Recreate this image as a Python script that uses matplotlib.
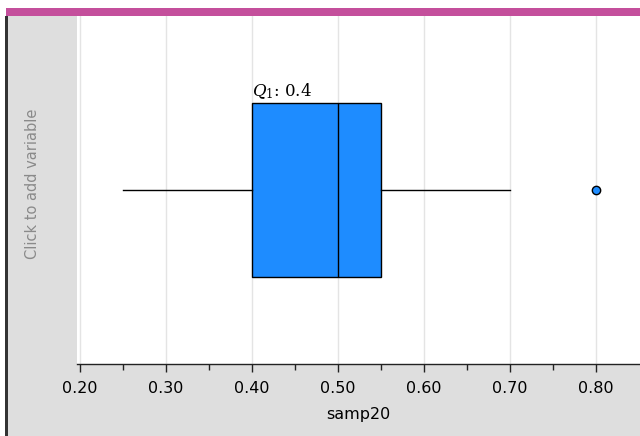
import matplotlib
matplotlib.use("Agg")
import matplotlib.pyplot as plt
from matplotlib.patches import Rectangle
import numpy as np

# five-number summary
var_name = "samp20"
q1 = 0.40
median = 0.50
q3 = 0.55
whisker_low = 0.25
whisker_high = 0.70
outliers = [0.80]

tick_values = [0.20, 0.30, 0.40, 0.50, 0.60, 0.70, 0.80]
tick_labels = ["0.20", "0.30", "0.40", "0.50", "0.60", "0.70", "0.80"]

W, H = 640, 436
fig = plt.figure(figsize=(W / 100, H / 100), dpi=100)
fig.patch.set_facecolor("white")

# background chrome: grey side/bottom panel, dark left edge, pink top bar
grey = "#dedede"
fig.patches.append(Rectangle((8 / W, 0), 1 - 8 / W, 1 - 16 / H, transform=fig.transFigure,
                             facecolor=grey, edgecolor="none", zorder=-2))
fig.patches.append(Rectangle((5 / W, 0), 3 / W, 1 - 16 / H, transform=fig.transFigure,
                             facecolor="#333333", edgecolor="none", zorder=-1))
fig.patches.append(Rectangle((6 / W, 1 - 16 / H), 1 - 6 / W, 8 / H, transform=fig.transFigure,
                             facecolor="#c44f9c", edgecolor="none", zorder=-1))

ax = fig.add_axes([77 / W, (H - 364) / H, (W - 77) / W, (364 - 16) / H])
ax.set_zorder(5)
ax.set_facecolor("white")

stats = [{
    "q1": q1, "med": median, "q3": q3,
    "whislo": whisker_low, "whishi": whisker_high,
    "fliers": outliers,
}]
ax.bxp(stats, positions=[0.5], widths=0.5, orientation="horizontal",
       showcaps=False, patch_artist=True,
       boxprops=dict(facecolor="#1e8cff", edgecolor="black", linewidth=1.0),
       medianprops=dict(color="black", linewidth=1.0),
       whiskerprops=dict(color="black", linewidth=1.0),
       flierprops=dict(marker="o", markerfacecolor="#1e8cff", markeredgecolor="black",
                       markersize=6, markeredgewidth=1.0))

ax.text(q1, 0.757, r"$Q_1$: 0.4", fontsize=12, family="DejaVu Serif",
        ha="left", va="bottom", math_fontfamily="dejavuserif")

ax.set_xlim(0.2 - 3 / 860, 0.2 + 560 / 860)
ax.set_ylim(0, 1)
ax.set_yticks([])
ax.set_xticks(tick_values)
ax.set_xticklabels(tick_labels, fontsize=11.5)
ax.set_xticks(np.arange(0.25, 0.85, 0.1), minor=True)
ax.tick_params(axis="x", which="major", length=6, width=1, color="#222222", pad=6)
ax.tick_params(axis="x", which="minor", length=4, width=1, color="#222222")
ax.grid(True, axis="x", which="major", color="#e4e4e4", linewidth=1)
ax.set_axisbelow(True)
for side in ["top", "right", "left"]:
    ax.spines[side].set_visible(False)
ax.spines["bottom"].set_color("#222222")
ax.spines["bottom"].set_linewidth(1)
ax.set_xlabel(var_name, fontsize=11.5, labelpad=8)

fig.text(33 / W, 1 - 184 / H, "Click to add variable", rotation=90, fontsize=10.5,
         color="#8a8a8a", ha="center", va="center")

fig.savefig("out.png", dpi=100)
